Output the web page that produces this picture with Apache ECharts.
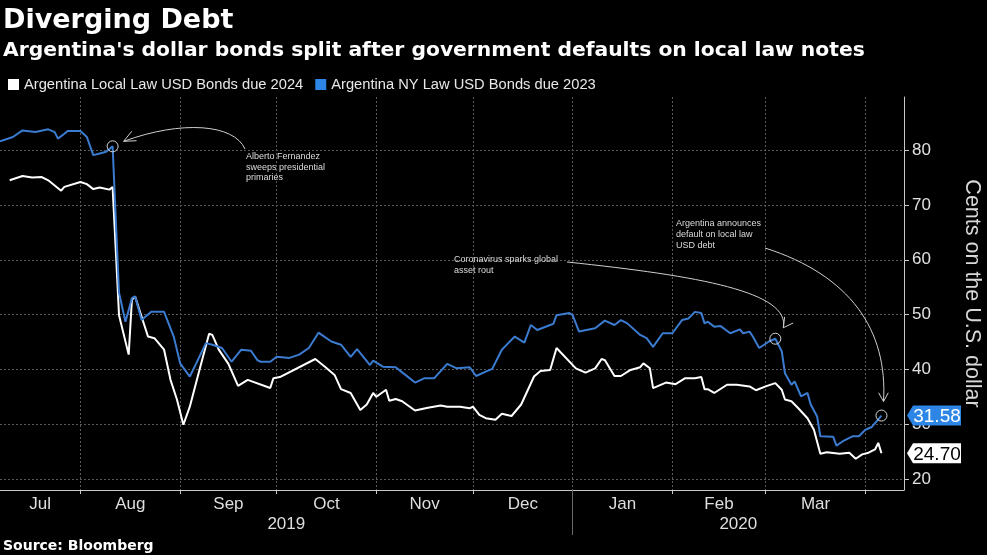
<!DOCTYPE html>
<html><head><meta charset="utf-8">
<script src="https://cdn.jsdelivr.net/npm/echarts@6/dist/echarts.min.js"></script>
<style>html,body{margin:0;padding:0;background:#000;}#c{width:987px;height:555px;}</style>
</head><body><div id="c"></div>
<script>
// ---------- DATA ----------
const localName = 'Argentina Local Law USD Bonds due 2024';
const nyName = 'Argentina NY Law USD Bonds due 2023';

const localDates = ['2019-07-10','2019-07-14','2019-07-17','2019-07-20','2019-07-22','2019-07-26','2019-07-27','2019-08-01','2019-08-03','2019-08-05','2019-08-07','2019-08-10','2019-08-11','2019-08-13','2019-08-16','2019-08-17','2019-08-18','2019-08-22','2019-08-24','2019-08-27','2019-08-29','2019-08-31','2019-09-02','2019-09-04','2019-09-07','2019-09-10','2019-09-11','2019-09-13','2019-09-16','2019-09-19','2019-09-22','2019-09-29','2019-09-30','2019-10-02','2019-10-13','2019-10-16','2019-10-19','2019-10-21','2019-10-24','2019-10-27','2019-10-29','2019-10-31','2019-11-01','2019-11-04','2019-11-05','2019-11-07','2019-11-09','2019-11-13','2019-11-17','2019-11-21','2019-11-23','2019-11-27','2019-11-30','2019-12-01','2019-12-03','2019-12-05','2019-12-08','2019-12-10','2019-12-13','2019-12-16','2019-12-20','2019-12-22','2019-12-25','2019-12-27','2020-01-02','2020-01-05','2020-01-08','2020-01-10','2020-01-11','2020-01-14','2020-01-16','2020-01-19','2020-01-22','2020-01-23','2020-01-25','2020-01-26','2020-01-30','2020-02-02','2020-02-05','2020-02-08','2020-02-10','2020-02-11','2020-02-12','2020-02-14','2020-02-18','2020-02-21','2020-02-25','2020-02-27','2020-03-01','2020-03-04','2020-03-06','2020-03-07','2020-03-09','2020-03-11','2020-03-14','2020-03-16','2020-03-18','2020-03-20','2020-03-24','2020-03-27','2020-03-29','2020-03-31','2020-04-02','2020-04-04','2020-04-05','2020-04-06'];
const localValues = [74.5,75.3,75.0,75.1,74.5,72.6,73.3,74.2,73.8,72.9,73.2,72.8,73.3,49.9,42.7,52.7,53.3,46.0,45.7,43.6,38.1,34.5,29.9,33.2,39.9,46.5,46.3,43.6,41.0,37.0,38.1,36.6,38.4,38.6,41.9,40.5,39.0,36.4,35.7,32.6,33.6,35.7,35.0,36.3,34.3,34.6,34.2,32.5,33.0,33.4,33.2,33.2,32.9,33.2,31.7,31.1,30.8,31.9,31.5,33.6,38.7,39.7,39.9,43.9,40.2,39.4,40.2,41.9,41.7,38.8,38.8,39.9,40.4,41.1,40.2,36.6,37.6,37.3,38.4,38.4,38.6,36.4,36.4,35.7,37.2,37.2,36.9,36.2,36.9,37.5,36.3,34.5,34.2,33.0,31.1,29.0,24.6,24.9,24.6,24.8,23.7,24.5,24.8,25.4,26.6,24.70];

const nyDates = ['2019-07-07','2019-07-11','2019-07-14','2019-07-18','2019-07-22','2019-07-24','2019-07-25','2019-07-27','2019-07-28','2019-08-01','2019-08-03','2019-08-05','2019-08-07','2019-08-09','2019-08-11','2019-08-13','2019-08-15','2019-08-17','2019-08-18','2019-08-20','2019-08-23','2019-08-27','2019-08-30','2019-09-01','2019-09-04','2019-09-06','2019-09-09','2019-09-11','2019-09-14','2019-09-17','2019-09-20','2019-09-23','2019-09-25','2019-09-26','2019-09-29','2019-10-01','2019-10-05','2019-10-08','2019-10-11','2019-10-14','2019-10-15','2019-10-18','2019-10-21','2019-10-24','2019-10-26','2019-10-30','2019-10-31','2019-11-03','2019-11-07','2019-11-10','2019-11-13','2019-11-16','2019-11-19','2019-11-23','2019-11-26','2019-11-30','2019-12-02','2019-12-05','2019-12-07','2019-12-10','2019-12-11','2019-12-14','2019-12-17','2019-12-19','2019-12-21','2019-12-25','2019-12-26','2019-12-27','2019-12-31','2020-01-01','2020-01-03','2020-01-08','2020-01-11','2020-01-14','2020-01-16','2020-01-18','2020-01-22','2020-01-24','2020-01-26','2020-01-29','2020-02-01','2020-02-04','2020-02-06','2020-02-08','2020-02-10','2020-02-11','2020-02-12','2020-02-14','2020-02-16','2020-02-19','2020-02-22','2020-02-23','2020-02-25','2020-02-26','2020-02-28','2020-03-02','2020-03-04','2020-03-06','2020-03-07','2020-03-09','2020-03-10','2020-03-12','2020-03-14','2020-03-15','2020-03-17','2020-03-18','2020-03-22','2020-03-23','2020-03-25','2020-03-28','2020-03-30','2020-04-01','2020-04-03','2020-04-06'];
const nyValues = [81.6,82.4,83.6,83.3,83.8,83.3,82.1,83.0,83.5,83.5,82.4,79.1,79.4,79.7,80.7,54.0,48.7,53.0,53.3,49.0,50.5,50.5,46.0,41.1,38.7,41.1,44.8,44.5,43.9,41.4,43.6,43.4,41.7,41.4,41.4,42.3,42.1,42.7,43.9,46.7,46.3,45.1,44.5,42.3,43.7,40.8,41.6,40.5,40.4,39.0,37.6,38.4,38.4,41.0,40.2,40.4,38.8,39.6,40.1,43.6,44.2,46.0,44.9,48.1,47.2,48.1,48.3,49.9,50.3,49.9,46.9,47.5,48.9,48.1,49.0,48.4,46.3,45.7,44.1,46.6,46.6,49.0,49.3,50.5,50.3,48.4,48.7,47.8,47.9,46.6,47.3,46.6,46.9,46.0,43.9,45.1,45.6,43.3,39.3,37.2,37.8,35.1,35.7,33.6,31.4,27.8,27.7,26.1,26.9,27.8,27.8,29.0,29.5,31.58];

const monthStarts = ['2019-07-01','2019-08-01','2019-09-01','2019-10-01','2019-11-01','2019-12-01','2020-01-01','2020-02-01','2020-03-01','2020-04-01'];
const monthLabels = ['Jul','Aug','Sep','Oct','Nov','Dec','Jan','Feb','Mar'];
const yearStarts = ['2019-01-01','2020-01-01'];
const yearLabels = ['2019','2020'];
const yTickValues = [20,30,40,50,60,70,80];
const xRange = ['2019-07-07','2020-04-13'];
const yRange = [18, 89.7];

const annotatedDates = ['2019-08-11','2020-03-04','2020-04-06'];
const annotationTexts = [
  'Alberto Fernandez\nsweeps presidential\nprimaries',
  'Coronavirus sparks global\nasset rout',
  'Argentina announces\ndefault on local law\nUSD debt'
];

// ---------- HELPERS ----------
const ts = s => new Date(s + 'T00:00:00').getTime();
const tMin = ts(xRange[0]), tMax = ts(xRange[1]);
const tickVals = monthStarts.map(ts).filter(v => v > tMin && v < tMax);
const monthMids = monthLabels.map((m, i) => {
  const a = Math.max(ts(monthStarts[i]), tMin), b = Math.min(ts(monthStarts[i+1]), tMax);
  return (a + b) / 2;
});
const yearBoundary = ts(yearStarts[1]);
const yearMids = [(tMin + yearBoundary) / 2, (yearBoundary + tMax) / 2];
function nearestLabel(v, mids, labels) {
  let best = 0, bd = Infinity;
  mids.forEach((m, i) => { const d = Math.abs(m - v); if (d < bd) { bd = d; best = i; } });
  return labels[best];
}

const localData = localDates.map((d, i) => [ts(d), localValues[i]]);
const nyData = nyDates.map((d, i) => [ts(d), nyValues[i]]);

const SANS = '"Liberation Sans", Arial, sans-serif';
const BOLD = '"DejaVu Sans", sans-serif';
const BLUE_LINE = '#3b7bd0';
const BLUE_TAG = '#2d86e6';

const tagPath = 'path://M0,10 L6,0 L54,0 L54,20 L6,20 Z';

const circleItems = annotatedDates.map(d => {
  const i = nyDates.indexOf(d);
  return { coord: [ts(d), nyValues[i]], symbol: 'circle', symbolSize: 11,
    itemStyle: { color: 'rgba(0,0,0,0)', borderColor: '#d8d8d8', borderWidth: 1 }, label: { show: false } };
});

const chart = echarts.init(document.getElementById('c'), null, { renderer: 'canvas' });
chart.setOption({
  backgroundColor: '#000',
  animation: false,
  title: [
    { text: 'Diverging Debt', left: -2, top: 2, textStyle: { fontFamily: BOLD, fontWeight: 'bold', fontSize: 27, color: '#fff' } },
    { text: "Argentina's dollar bonds split after government defaults on local law notes", left: -2, top: 36, textStyle: { fontFamily: BOLD, fontWeight: 'bold', fontSize: 20.3, color: '#fff' } },
    { text: 'Source: Bloomberg', left: -2, top: 534, textStyle: { fontFamily: BOLD, fontWeight: 'bold', fontSize: 14, color: '#fff' } }
  ],
  legend: {
    left: 3, top: 72, icon: 'rect', itemWidth: 11, itemHeight: 11, itemGap: 12,
    textStyle: { color: '#e8e8e8', fontFamily: SANS, fontSize: 14.7 },
    data: [
      { name: localName, itemStyle: { color: '#ffffff' } },
      { name: nyName, itemStyle: { color: BLUE_TAG } }
    ]
  },
  grid: { left: 0, right: 83, top: 97, bottom: 65, containLabel: false, outerBoundsMode: 'none' },
  xAxis: [
    {
      type: 'value', min: tMin, max: tMax, position: 'bottom',
      axisLine: { show: true, lineStyle: { color: '#c8c8c8', width: 1 } },
      axisTick: { show: true, customValues: tickVals, length: 4, lineStyle: { color: '#c8c8c8' } },
      axisLabel: { show: true, customValues: monthMids, formatter: v => nearestLabel(v, monthMids, monthLabels),
        color: '#dedede', fontFamily: SANS, fontSize: 17, margin: 6, hideOverlap: false },
      splitLine: { show: true, lineStyle: { color: '#5a5a5a', width: 1, type: [2, 2] } }
    },
    {
      type: 'value', min: tMin, max: tMax, position: 'bottom', gridIndex: 0,
      axisLine: { show: false },
      axisTick: { show: true, customValues: [yearBoundary], length: 45, lineStyle: { color: '#6a6a6a' } },
      axisLabel: { show: true, customValues: yearMids, formatter: v => nearestLabel(v, yearMids, yearLabels),
        color: '#dedede', fontFamily: SANS, fontSize: 17, margin: 26, hideOverlap: false },
      splitLine: { show: false }
    }
  ],
  yAxis: {
    type: 'value', position: 'right', min: yRange[0], max: yRange[1],
    axisLine: { show: true, lineStyle: { color: '#c8c8c8' } },
    axisTick: { show: true, customValues: yTickValues, length: 5, lineStyle: { color: '#c8c8c8' } },
    axisLabel: { show: true, customValues: yTickValues, color: '#e0e0e0', fontFamily: SANS, fontSize: 17, margin: 8 },
    splitLine: { show: true, lineStyle: { color: '#5a5a5a', width: 1, type: [2, 2] } },
    name: 'Cents on the U.S. dollar', nameLocation: 'middle', nameRotate: -90, nameGap: 57,
    nameTextStyle: { color: '#d8d8d8', fontFamily: SANS, fontSize: 21.5 }
  },
  series: [
    {
      name: localName, type: 'line', xAxisIndex: 0, yAxisIndex: 0, data: localData,
      showSymbol: false, lineStyle: { color: '#ffffff', width: 2 }, itemStyle: { color: '#ffffff' }, z: 3,
      markPoint: {
        silent: true,
        data: [{
          coord: [tMax, localValues[localValues.length - 1]], symbol: tagPath, symbolSize: [54, 20], symbolOffset: [30, 0],
          itemStyle: { color: '#ffffff' },
          label: { show: true, formatter: localValues[localValues.length - 1].toFixed(2), color: '#000', fontFamily: SANS, fontSize: 19, offset: [3, 1] }
        }]
      }
    },
    {
      name: nyName, type: 'line', xAxisIndex: 0, yAxisIndex: 0, data: nyData,
      showSymbol: false, lineStyle: { color: BLUE_LINE, width: 2 }, itemStyle: { color: BLUE_LINE }, z: 4,
      markPoint: {
        silent: true,
        data: circleItems.concat([{
          coord: [tMax, nyValues[nyValues.length - 1]], symbol: tagPath, symbolSize: [54, 20], symbolOffset: [30, 0],
          itemStyle: { color: BLUE_TAG },
          label: { show: true, formatter: nyValues[nyValues.length - 1].toFixed(2), color: '#fff', fontFamily: SANS, fontSize: 19, offset: [3, 1] }
        }])
      }
    }
  ]
});

// ---------- ANNOTATIONS ----------
const pts = annotatedDates.map(d => chart.convertToPixel({ xAxisIndex: 0, yAxisIndex: 0 }, [ts(d), nyValues[nyDates.indexOf(d)]]));
const lineStyle = { stroke: '#cfcfcf', lineWidth: 1, fill: null };
const textStyle = { fill: '#dcdcdc', font: '9px "Liberation Sans", sans-serif', lineHeight: 10.7 };
function head(tip, from, len, ang) {
  const dx = from[0] - tip[0], dy = from[1] - tip[1];
  const a = Math.atan2(dy, dx);
  return [[tip[0] + len * Math.cos(a + ang), tip[1] + len * Math.sin(a + ang)], tip,
          [tip[0] + len * Math.cos(a - ang), tip[1] + len * Math.sin(a - ang)]];
}
const tip1 = [pts[0][0] + 11, pts[0][1] - 5];
const tip2 = [pts[1][0] + 8, pts[1][1] - 11];
const tip3 = [pts[2][0] + 2, pts[2][1] - 14];
const g = [
  { type: 'text', left: 246, top: 151, style: Object.assign({ text: annotationTexts[0] }, textStyle) },
  { type: 'text', left: 454, top: 254, style: Object.assign({ text: annotationTexts[1] }, textStyle) },
  { type: 'text', left: 676, top: 218.5, style: Object.assign({ text: annotationTexts[2] }, textStyle) },
  { type: 'bezierCurve', shape: { x1: 245, y1: 149, cpx1: 234, cpy1: 124, cpx2: 182, cpy2: 120, x2: tip1[0], y2: tip1[1] }, style: lineStyle },
  { type: 'polyline', shape: { points: head(tip1, [150, 128], 13, 0.42) }, style: lineStyle },
  { type: 'bezierCurve', shape: { x1: 567, y1: 262, cpx1: 700, cpy1: 276, cpx2: 790, cpy2: 292, x2: tip2[0], y2: tip2[1] }, style: lineStyle },
  { type: 'polyline', shape: { points: head(tip2, [796, 310], 11, 0.5) }, style: lineStyle },
  { type: 'bezierCurve', shape: { x1: 765, y1: 248, cpx1: 850, cpy1: 275, cpx2: 888, cpy2: 330, x2: tip3[0], y2: tip3[1] }, style: lineStyle },
  { type: 'polyline', shape: { points: head(tip3, [tip3[0], tip3[1] - 20], 10, 0.5) }, style: lineStyle }
];
chart.setOption({ graphic: g });
</script>
</body></html>
